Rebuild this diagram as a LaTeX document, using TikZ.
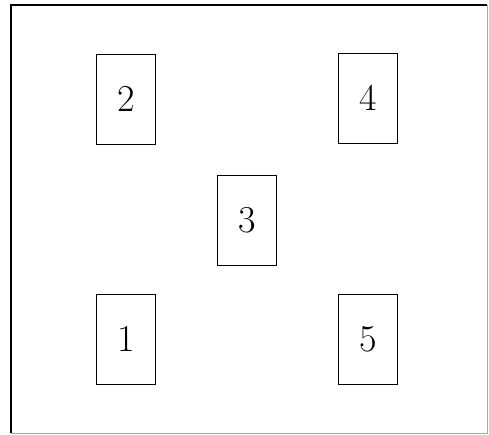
\documentclass[tikz,border=0pt]{standalone}
\begin{document}
\begin{tikzpicture}[x=1pt,y=-1pt,
  card/.style={draw, line width=0.9pt, minimum width=59pt, minimum height=90pt, inner sep=0pt, font=\fontsize{38}{40}\selectfont}]
\useasboundingbox (0,0) rectangle (489,435);
\draw[line width=1.5pt] (11,433) -- (11,5) -- (487,5);
\draw[line width=0.8pt, gray!70] (11,433) -- (487,433) -- (487,5);
\node[card] (n2) at (126,99) {2};
\node[card] (n4) at (368,98) {4};
\node[card] (n3) at (247,220) {3};
\node[card] (n1) at (126,339) {1};
\node[card] (n5) at (368,339) {5};
\end{tikzpicture}
\end{document}
